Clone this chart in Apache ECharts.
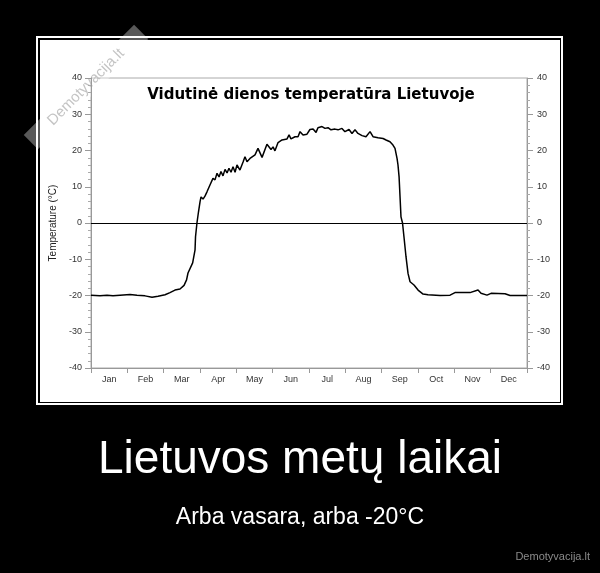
<!DOCTYPE html>
<html>
<head>
<meta charset="utf-8">
<script src="https://cdn.jsdelivr.net/npm/echarts@6/dist/echarts.min.js"></script>
<style>
  html, body { margin: 0; padding: 0; background: #000; }
  #chart { width: 600px; height: 573px; }
</style>
</head>
<body>
<div id="chart"></div>
<script>
  // month names on the bottom axis
  var months = ['Jan', 'Feb', 'Mar', 'Apr', 'May', 'Jun', 'Jul', 'Aug', 'Sep', 'Oct', 'Nov', 'Dec'];

  // day of year / temperature
  var days = [0, 7.5, 13.4, 18.4, 24.3, 32.7, 38.5, 45.2, 51.1, 56.1, 62, 66.1, 70.3, 74.5, 77.9, 80, 81.2,
    85.1, 87.1, 87.5, 88.7, 90, 91.3, 92.1, 93.8, 95.4, 97.1, 99.6, 102.1, 103.8, 105.5, 107.2, 108.8,
    110.5, 112.2, 113.9, 115.5, 117.2, 118.9, 120.6, 122.2, 124.7, 127.3, 128.9, 130.6, 133.1, 137.3,
    139.8, 143.2, 147.3, 150.7, 152.4, 154, 156.6, 159.9, 164.1, 165.8, 167.4, 170.8, 173.3, 175, 177.5,
    180.8, 183.3, 185.9, 188.4, 190, 193.4, 195.9, 198.4, 200.9, 204.3, 206.8, 210.1, 212.6, 216, 218.5,
    221, 223.5, 226.9, 230.2, 233.6, 236.1, 240.3, 244.5, 247, 250.3, 252.8, 254.5, 256.2, 257, 257.9,
    258.7, 259.5, 260.8, 262, 263.7, 265.4, 267.1, 270.4, 273.8, 278, 282.1, 292.2, 300.6, 302.2, 304.7,
    317.3, 324, 326.5, 331.5, 334.9, 346.6, 350.8, 365];
  var temps = [-19.9, -20.1, -19.9, -20.1, -19.9, -19.7, -19.9, -20.1, -20.5, -20.2, -19.8, -19.2, -18.5, -18.2, -17.2, -15.7, -13.8,
    -11, -7.4, -3.8, 0, 3.1, 5.9, 7.2, 6.6, 7.4, 8.6, 10.5, 12.3, 11.9, 13.7, 12.7, 14.2,
    13, 14.8, 13.8, 15.1, 14, 15.5, 14, 16, 14.6, 16.8, 18.3, 16.9, 17.8, 18.8,
    20.6, 18.1, 21.7, 20.3, 21, 19.9, 22.2, 22.9, 23.2, 24.3, 23.2, 23.8, 23.8, 25.2, 24.3,
    24.5, 25.8, 25.9, 25, 26.3, 26.6, 26.1, 26.3, 25.7, 25.9, 25.7, 26.1, 25.2, 25.8, 24.7,
    25.7, 24.7, 24.1, 23.8, 25.2, 23.8, 23.5, 23.3, 22.9, 22.4, 21.5, 20.6, 17.8, 16, 12.8,
    7.3, 1.7, 0, -3.8, -9.3, -13.9, -16.2, -17.1, -18.5, -19.6, -19.8, -20, -19.9, -19.4, -19.2,
    -19.2, -18.5, -19.4, -19.9, -19.4, -19.5, -20, -20];

  var lineData = days.map(function (d, i) { return [d, temps[i]]; });

  var chart = echarts.init(document.getElementById('chart'));

  var yAxisBase = {
    type: 'value',
    min: -40,
    max: 40,
    interval: 10,
    splitLine: { show: false },
    axisLine: { show: true, lineStyle: { color: '#999' } },
    axisTick: { show: true, length: 6, lineStyle: { color: '#999' } },
    minorTick: { show: true, splitNumber: 5, length: 3, lineStyle: { color: '#aaa' } },
    axisLabel: { fontSize: 9, color: '#333', fontFamily: 'Liberation Sans' }
  };

  chart.setOption({
    backgroundColor: '#000',
    animation: false,
    grid: {
      left: 91, right: 73, top: 78, bottom: 205,
      show: true, borderColor: '#aaa', borderWidth: 1
    },
    xAxis: [{
      type: 'category',
      data: months,
      boundaryGap: true,
      position: 'bottom',
      axisLine: { show: true, onZero: false, lineStyle: { color: '#999' } },
      axisTick: { show: true, length: 5, lineStyle: { color: '#999' } },
      axisLabel: { fontSize: 9, color: '#333', margin: 7, fontFamily: 'Liberation Sans' }
    }, {
      type: 'value',
      min: 0,
      max: 365,
      show: false
    }],
    yAxis: [
      Object.assign({}, yAxisBase, {
        position: 'left',
        name: 'Temperature (°C)',
        nameLocation: 'middle',
        nameGap: 26,
        nameTextStyle: { fontSize: 10, color: '#222', fontFamily: 'Liberation Sans' },
        axisLabel: Object.assign({}, yAxisBase.axisLabel, { margin: 9 })
      }),
      Object.assign({}, yAxisBase, {
        position: 'right',
        axisLabel: Object.assign({}, yAxisBase.axisLabel, { margin: 10 })
      })
    ],
    series: [{
      type: 'line',
      xAxisIndex: 1,
      yAxisIndex: 0,
      data: lineData,
      showSymbol: false,
      symbol: 'none',
      lineStyle: { color: '#000', width: 1.5 },
      markLine: {
        silent: true,
        symbol: 'none',
        label: { show: false },
        lineStyle: { color: '#000', width: 1, type: 'solid' },
        data: [{ yAxis: 0 }]
      }
    }],
    graphic: [
      // white poster panel + frame
      { type: 'rect', z: -10, shape: { x: 40, y: 40, width: 520, height: 362 }, style: { fill: '#fff' } },
      { type: 'rect', z: -10, shape: { x: 37, y: 37, width: 525, height: 367 }, style: { fill: null, stroke: '#fff', lineWidth: 2 } },
      // chart title
      { type: 'text', x: 311, y: 95, z: 50,
        style: { text: 'Vidutinė dienos temperatūra Lietuvoje', fill: '#000', font: 'bold 15px "DejaVu Sans"',
          textAlign: 'center', textVerticalAlign: 'middle' } },
      // diagonal watermark
      { type: 'group', x: 86, y: 87, rotation: Math.PI / 4, z: 100, children: [
        { type: 'rect', shape: { x: -78, y: -10, width: 156, height: 20 }, style: { fill: 'rgba(255,255,255,0.35)' } },
        { type: 'text', x: 0, y: 0,
          style: { text: 'Demotyvacija.lt', fill: 'rgba(190,190,190,0.9)', font: '15px "Liberation Sans"',
            textAlign: 'center', textVerticalAlign: 'middle' } }
      ] },
      // poster texts
      { type: 'text', x: 300, y: 460, z: 50,
        style: { text: 'Lietuvos metų laikai', fill: '#fff', font: '46px "Liberation Sans"',
          textAlign: 'center', textVerticalAlign: 'middle' } },
      { type: 'text', x: 300, y: 518, z: 50,
        style: { text: 'Arba vasara, arba -20°C', fill: '#fff', font: '23px "Liberation Sans"',
          textAlign: 'center', textVerticalAlign: 'middle' } },
      { type: 'text', x: 590, y: 557, z: 50,
        style: { text: 'Demotyvacija.lt', fill: '#8a8a8a', font: '11px "Liberation Sans"',
          textAlign: 'right', textVerticalAlign: 'middle' } }
    ]
  });

  window.addEventListener('resize', function () {
    chart.resize();
  });
</script>
</body>
</html>
